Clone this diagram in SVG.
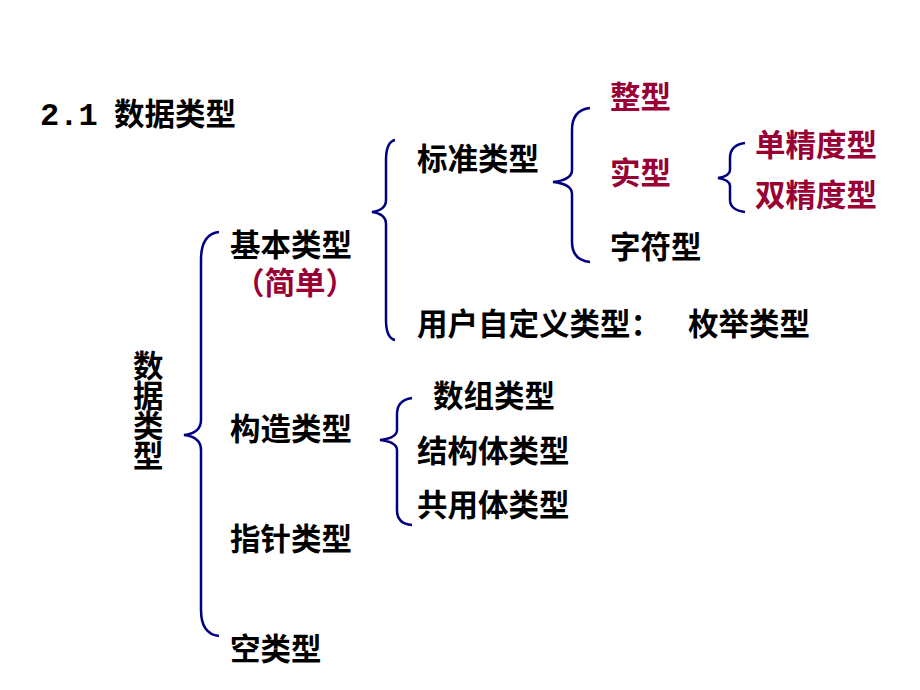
<svg xmlns="http://www.w3.org/2000/svg" width="920" height="690" viewBox="0 0 920 690">
<style>
text{font-family:"Noto Sans CJK SC","Liberation Sans",sans-serif;font-weight:bold;font-size:30.5px;fill:#000}
.r{fill:#990033}
.b{fill:none;stroke:#000080;stroke-width:2.5}
</style>
<rect width="920" height="690" fill="#fff"/>
<text x="40" y="125" font-size="34"><tspan font-family="Liberation Mono,monospace" font-size="32">2.1</tspan><tspan x="114">数据类型</tspan></text>
<g id="root"><text font-size="27"><tspan x="133" y="377">数</tspan><tspan x="133" y="407">据</tspan><tspan x="133" y="437">类</tspan><tspan x="133" y="467">型</tspan></text></g>
<g id="connectors">
<path class="b" d="M219,232 Q201,234 201,260 L201,420 Q201,433 184,435 Q201,437 201,450 L201,610 Q201,634 219,636"/>
<path class="b" d="M395,140 Q386,142 386,160 L386,200 Q386,210 372,212 Q386,214 386,224 L386,320 Q386,338 395,340"/>
<path class="b" d="M590,108 Q572,110 572,130 L572,170 Q572,180 553,182 Q572,184 572,194 L572,242 Q572,260 590,262"/>
<path class="b" d="M745,143 Q730,145 730,158 L730,170 Q730,176 718,178 Q730,180 730,186 L730,200 Q730,210 745,212"/>
<path class="b" d="M412,398 Q397,400 397,414 L397,430 Q397,438 380,440 Q397,442 397,450 L397,510 Q397,524 412,525"/>
</g>
<g id="basic"><text x="230" y="256">基本类型</text><text x="234" y="294" class="r">（简单）</text></g>
<g id="std"><text x="417" y="170">标准类型</text></g>
<g id="int"><text x="610" y="108" class="r">整型</text></g>
<g id="real"><text x="610" y="184" class="r">实型</text></g>
<g id="single"><text x="755" y="156" class="r">单精度型</text></g>
<g id="double"><text x="755" y="206" class="r">双精度型</text></g>
<g id="char"><text x="610" y="258">字符型</text></g>
<g id="user"><text x="417" y="335">用户自定义类型：</text><text x="688" y="335">枚举类型</text></g>
<g id="struct"><text x="230" y="440">构造类型</text></g>
<g id="arr"><text x="433" y="407">数组类型</text></g>
<g id="st"><text x="417" y="462">结构体类型</text></g>
<g id="un"><text x="417" y="516">共用体类型</text></g>
<g id="ptr"><text x="230" y="550">指针类型</text></g>
<g id="void"><text x="230" y="660">空类型</text></g>
</svg>
